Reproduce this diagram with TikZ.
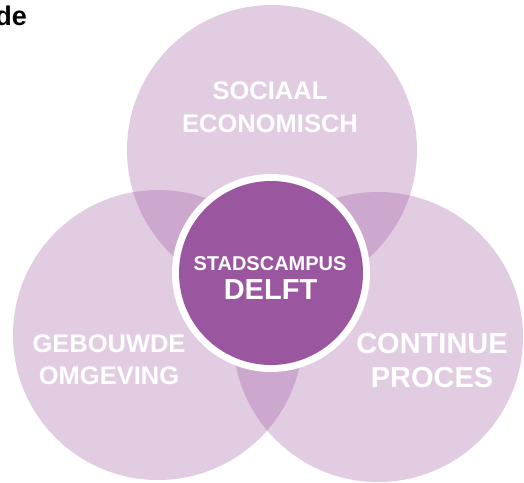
\documentclass[tikz,border=0pt]{standalone}
\usepackage{fontspec}
\setmainfont{Liberation Sans}
\definecolor{vpurple}{HTML}{9B56A0}
\begin{document}
\begin{tikzpicture}[x=1pt,y=-1pt,
  light/.style={fill=vpurple,fill opacity=0.3},
  lbl/.style={text=white,font=\bfseries,anchor=base,inner sep=0pt}]
\useasboundingbox (0,0) rectangle (524,482);
\fill[light] (272,150) circle (145);
\fill[light] (158,335) circle (145);
\fill[light] (378,337) circle (145);
\fill[white] (271,273) circle (99);
\fill[vpurple] (271,273) circle (92);
\node[lbl,font=\bfseries\fontsize{25.5}{30}\selectfont] (s1) at (270,99) {SOCIAAL};
\node[lbl,font=\bfseries\fontsize{25.5}{30}\selectfont] (s2) at (270,132) {ECONOMISCH};
\node[lbl,font=\bfseries\fontsize{25.5}{30}\selectfont] (g1) at (109,352) {GEBOUWDE};
\node[lbl,font=\bfseries\fontsize{25.5}{30}\selectfont] (g2) at (109,384) {OMGEVING};
\node[lbl,font=\bfseries\fontsize{29}{34}\selectfont] (c1) at (432,353) {CONTINUE};
\node[lbl,font=\bfseries\fontsize{29}{34}\selectfont] (c2) at (432,387) {PROCES};
\node[lbl,font=\bfseries\fontsize{20}{24}\selectfont] (m1) at (270,270) {STADSCAMPUS};
\node[lbl,font=\bfseries\fontsize{29}{34}\selectfont] (m2) at (270.5,299) {DELFT};
\node[text=black,font=\bfseries\fontsize{27}{32}\selectfont,anchor=base east,inner sep=0pt] (de) at (27,25) {de};
\end{tikzpicture}
\end{document}
